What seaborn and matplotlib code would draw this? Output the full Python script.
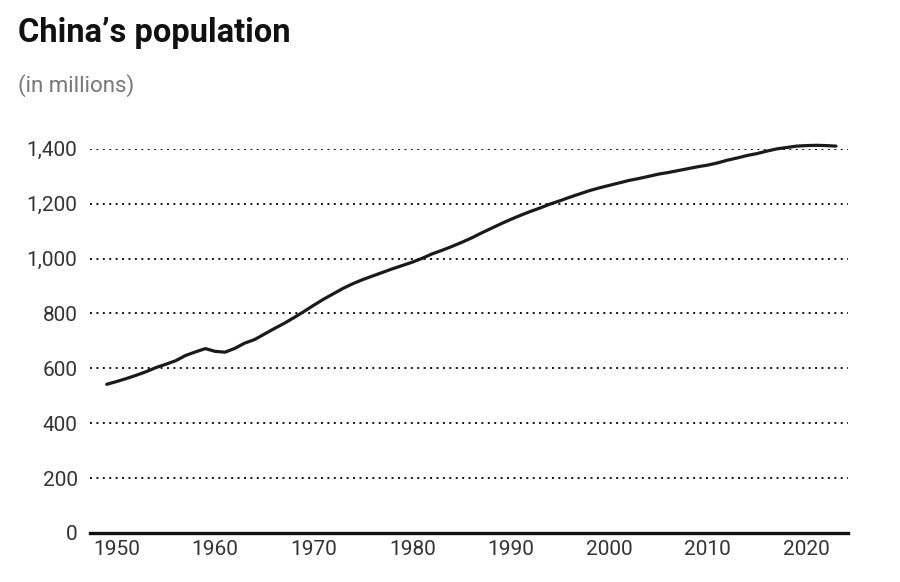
import matplotlib
matplotlib.use("Agg")
import matplotlib.pyplot as plt
import numpy as np
import pandas as pd
import seaborn as sns

""" china population, millions """

years = list(range(1949, 2024))
population = [542, 552, 563, 575, 588, 603, 615, 628, 647, 660,
              672, 662, 659, 673, 692, 705, 725, 745, 764, 785,
              807, 830, 852, 872, 892, 909, 924, 937, 950, 963,
              975, 987, 1001, 1017, 1030, 1044, 1059, 1075, 1093, 1110,
              1127, 1143, 1158, 1172, 1185, 1199, 1211, 1224, 1236, 1248,
              1258, 1267, 1276, 1285, 1292, 1300, 1308, 1314, 1321, 1328,
              1335, 1341, 1349, 1359, 1367, 1376, 1383, 1392, 1400, 1405,
              1410, 1412, 1413, 1412, 1410]
x_ticks = [1950, 1960, 1970, 1980, 1990, 2000, 2010, 2020]
y_ticks = [0, 200, 400, 600, 800, 1000, 1200, 1400]

df = pd.DataFrame({"year": years, "population": population})

sns.set_theme(style="white")
plt.rcParams['font.family'] = ['Roboto', 'DejaVu Sans']

fig = plt.figure(figsize=(9, 5.82), dpi=100)
ax = fig.add_axes([0.1, 0.0842, 0.842, 0.66])

sns.lineplot(data=df, x="year", y="population", ax=ax, color="#1a1a1a",
             linewidth=2.3, clip_on=False)

ax.set_xlim(1947.3, 2024.2)
ax.set_ylim(0, 1400)
ax.set_xticks(x_ticks)
ax.set_yticks(y_ticks)
ax.set_yticklabels([f"{v:,}" for v in y_ticks])
ax.tick_params(axis="both", length=0, labelsize=15, labelcolor="#333333")
ax.tick_params(axis="y", pad=9)
ax.tick_params(axis="x", pad=5)
ax.set_xlabel("")
ax.set_ylabel("")

for v in y_ticks[1:]:
    ax.axhline(v, color="#111111", linestyle=(0, (1, 2.3)), linewidth=1.4, zorder=0)

for s in ["top", "right", "left"]:
    ax.spines[s].set_visible(False)
ax.spines["bottom"].set_color("#111111")
ax.spines["bottom"].set_linewidth(2.4)

fig.text(0.02, 0.943, "China\u2019s population", fontsize=23.5, fontweight="bold",
         color="#111111", ha="left", va="center")
fig.text(0.02, 0.853, "(in millions)", fontsize=16, color="#777777",
         ha="left", va="center")

fig.savefig("out.png", dpi=100)
